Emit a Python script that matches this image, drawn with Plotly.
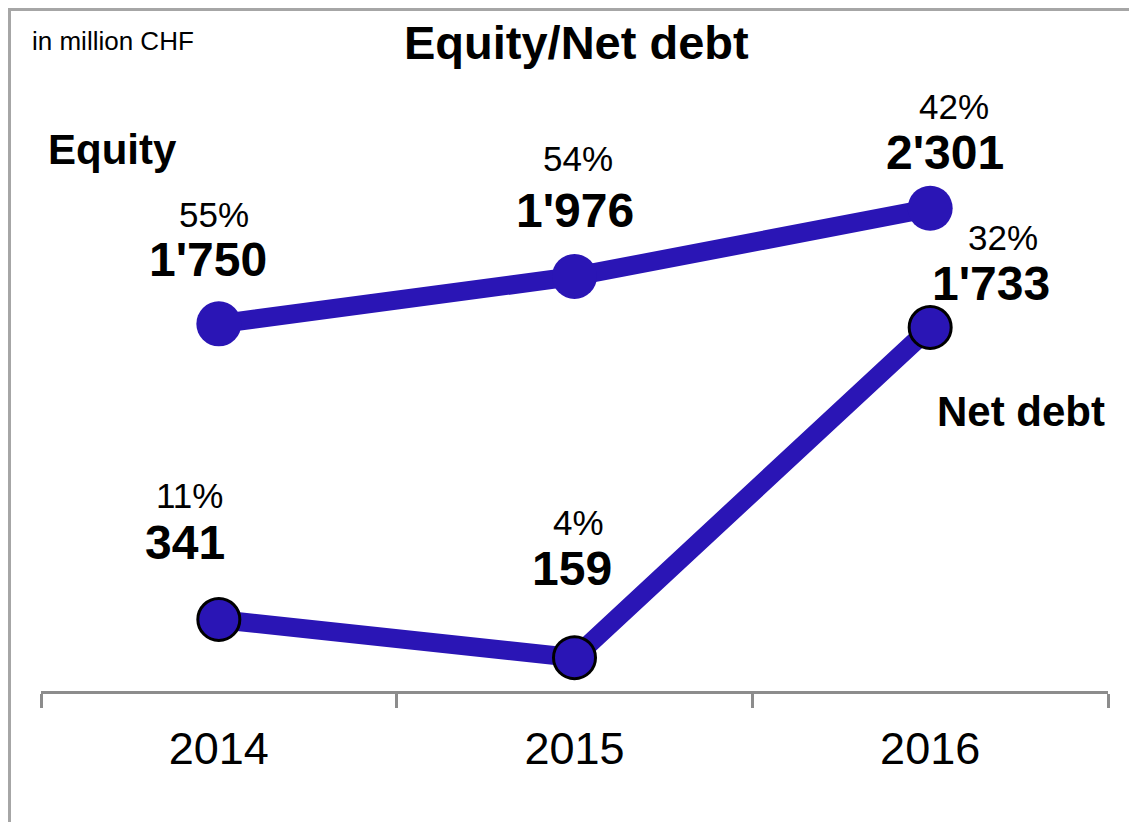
import plotly.graph_objects as go

# ---- data ----
years = ["2014", "2015", "2016"]
equity = [1750, 1976, 2301]
net_debt = [341, 159, 1733]
equity_pct = ["55%", "54%", "42%"]
net_debt_pct = ["11%", "4%", "32%"]

BLUE = "#2A15B5"
FONT = "Liberation Sans, Arial, sans-serif"

def fmt(v):
    return f"{v:,}".replace(",", "'")

fig = go.Figure()
fig.add_trace(go.Scatter(
    x=years, y=equity, mode="lines+markers",
    line=dict(color=BLUE, width=19),
    marker=dict(size=45, color=BLUE, line=dict(width=0)),
    hoverinfo="skip", showlegend=False))
fig.add_trace(go.Scatter(
    x=years, y=net_debt, mode="lines+markers",
    line=dict(color=BLUE, width=19),
    marker=dict(size=42, color=BLUE, line=dict(width=3, color="black")),
    hoverinfo="skip", showlegend=False))

# label offsets (pixels) relative to each point: (pct dx, pct dy, val dx, val dy)
eq_off = [(-5, 109, -11, 64), (3, 118, 0, 66), (24, 102, 15, 56)]
nd_off = [(-29, 124, -34, 77), (4, 135, -3, 89), (73, 90, 61, 44)]

ann = []
for series, pcts, offs in ((equity, equity_pct, eq_off), (net_debt, net_debt_pct, nd_off)):
    for i, (v, p, o) in enumerate(zip(series, pcts, offs)):
        ann.append(dict(x=i, y=v, xref="x", yref="y", text=p, showarrow=False,
                        xshift=o[0], yshift=o[1], yanchor="middle", xanchor="center",
                        font=dict(family=FONT, size=35, color="black")))
        ann.append(dict(x=i, y=v, xref="x", yref="y", text=f"<b>{fmt(v)}</b>", showarrow=False,
                        xshift=o[2], yshift=o[3], yanchor="middle", xanchor="center",
                        font=dict(family=FONT, size=48, color="black")))

# page has an 8px body margin: figure is offset by (8, 8)
OFF = 8
W, H = 1137 - OFF, 822 - OFF
L, R, T, B = 33, 29, 92, 131
pw, ph = W - L - R, H - T - B

def px(xp):
    return (xp - OFF - L) / pw

def py(yp):
    return (H - B - (yp - OFF)) / ph

ann.append(dict(x=px(30), y=py(41), xref="paper", yref="paper", text="in million CHF",
                showarrow=False, xanchor="left", yanchor="middle",
                font=dict(family=FONT, size=26, color="black")))
ann.append(dict(x=px(576), y=py(42), xref="paper", yref="paper", text="<b>Equity/Net debt</b>",
                showarrow=False, xanchor="center", yanchor="middle",
                font=dict(family=FONT, size=47, color="black")))
ann.append(dict(x=px(46), y=py(150), xref="paper", yref="paper", text="<b>Equity</b>",
                showarrow=False, xanchor="left", yanchor="middle",
                font=dict(family=FONT, size=42, color="black")))
ann.append(dict(x=px(935), y=py(411), xref="paper", yref="paper", text="<b>Net debt</b>",
                showarrow=False, xanchor="left", yanchor="middle",
                font=dict(family=FONT, size=42, color="black")))

fig.update_layout(
    width=W, height=H,
    margin=dict(l=L, r=R, t=T, b=B, pad=0),
    paper_bgcolor="white", plot_bgcolor="white",
    annotations=ann,
    shapes=[dict(type="rect", xref="paper", yref="paper",
                 x0=px(9.5), x1=px(1400), y0=py(9.5), y1=py(1200),
                 line=dict(color="#A6A6A6", width=3), layer="below")],
    xaxis=dict(type="category", range=[-0.5, 2.5], tickson="boundaries",
               showline=True, linecolor="#8C8C8C", linewidth=3,
               ticks="outside", ticklen=14, tickwidth=3, tickcolor="#8C8C8C",
               showgrid=False, zeroline=False,
               tickfont=dict(family=FONT, size=45, color="black"),
               ticklabelstandoff=16, fixedrange=True),
    yaxis=dict(range=[0, 2817], visible=False, showgrid=False, zeroline=False, fixedrange=True),
)

fig.write_html("out.html")
